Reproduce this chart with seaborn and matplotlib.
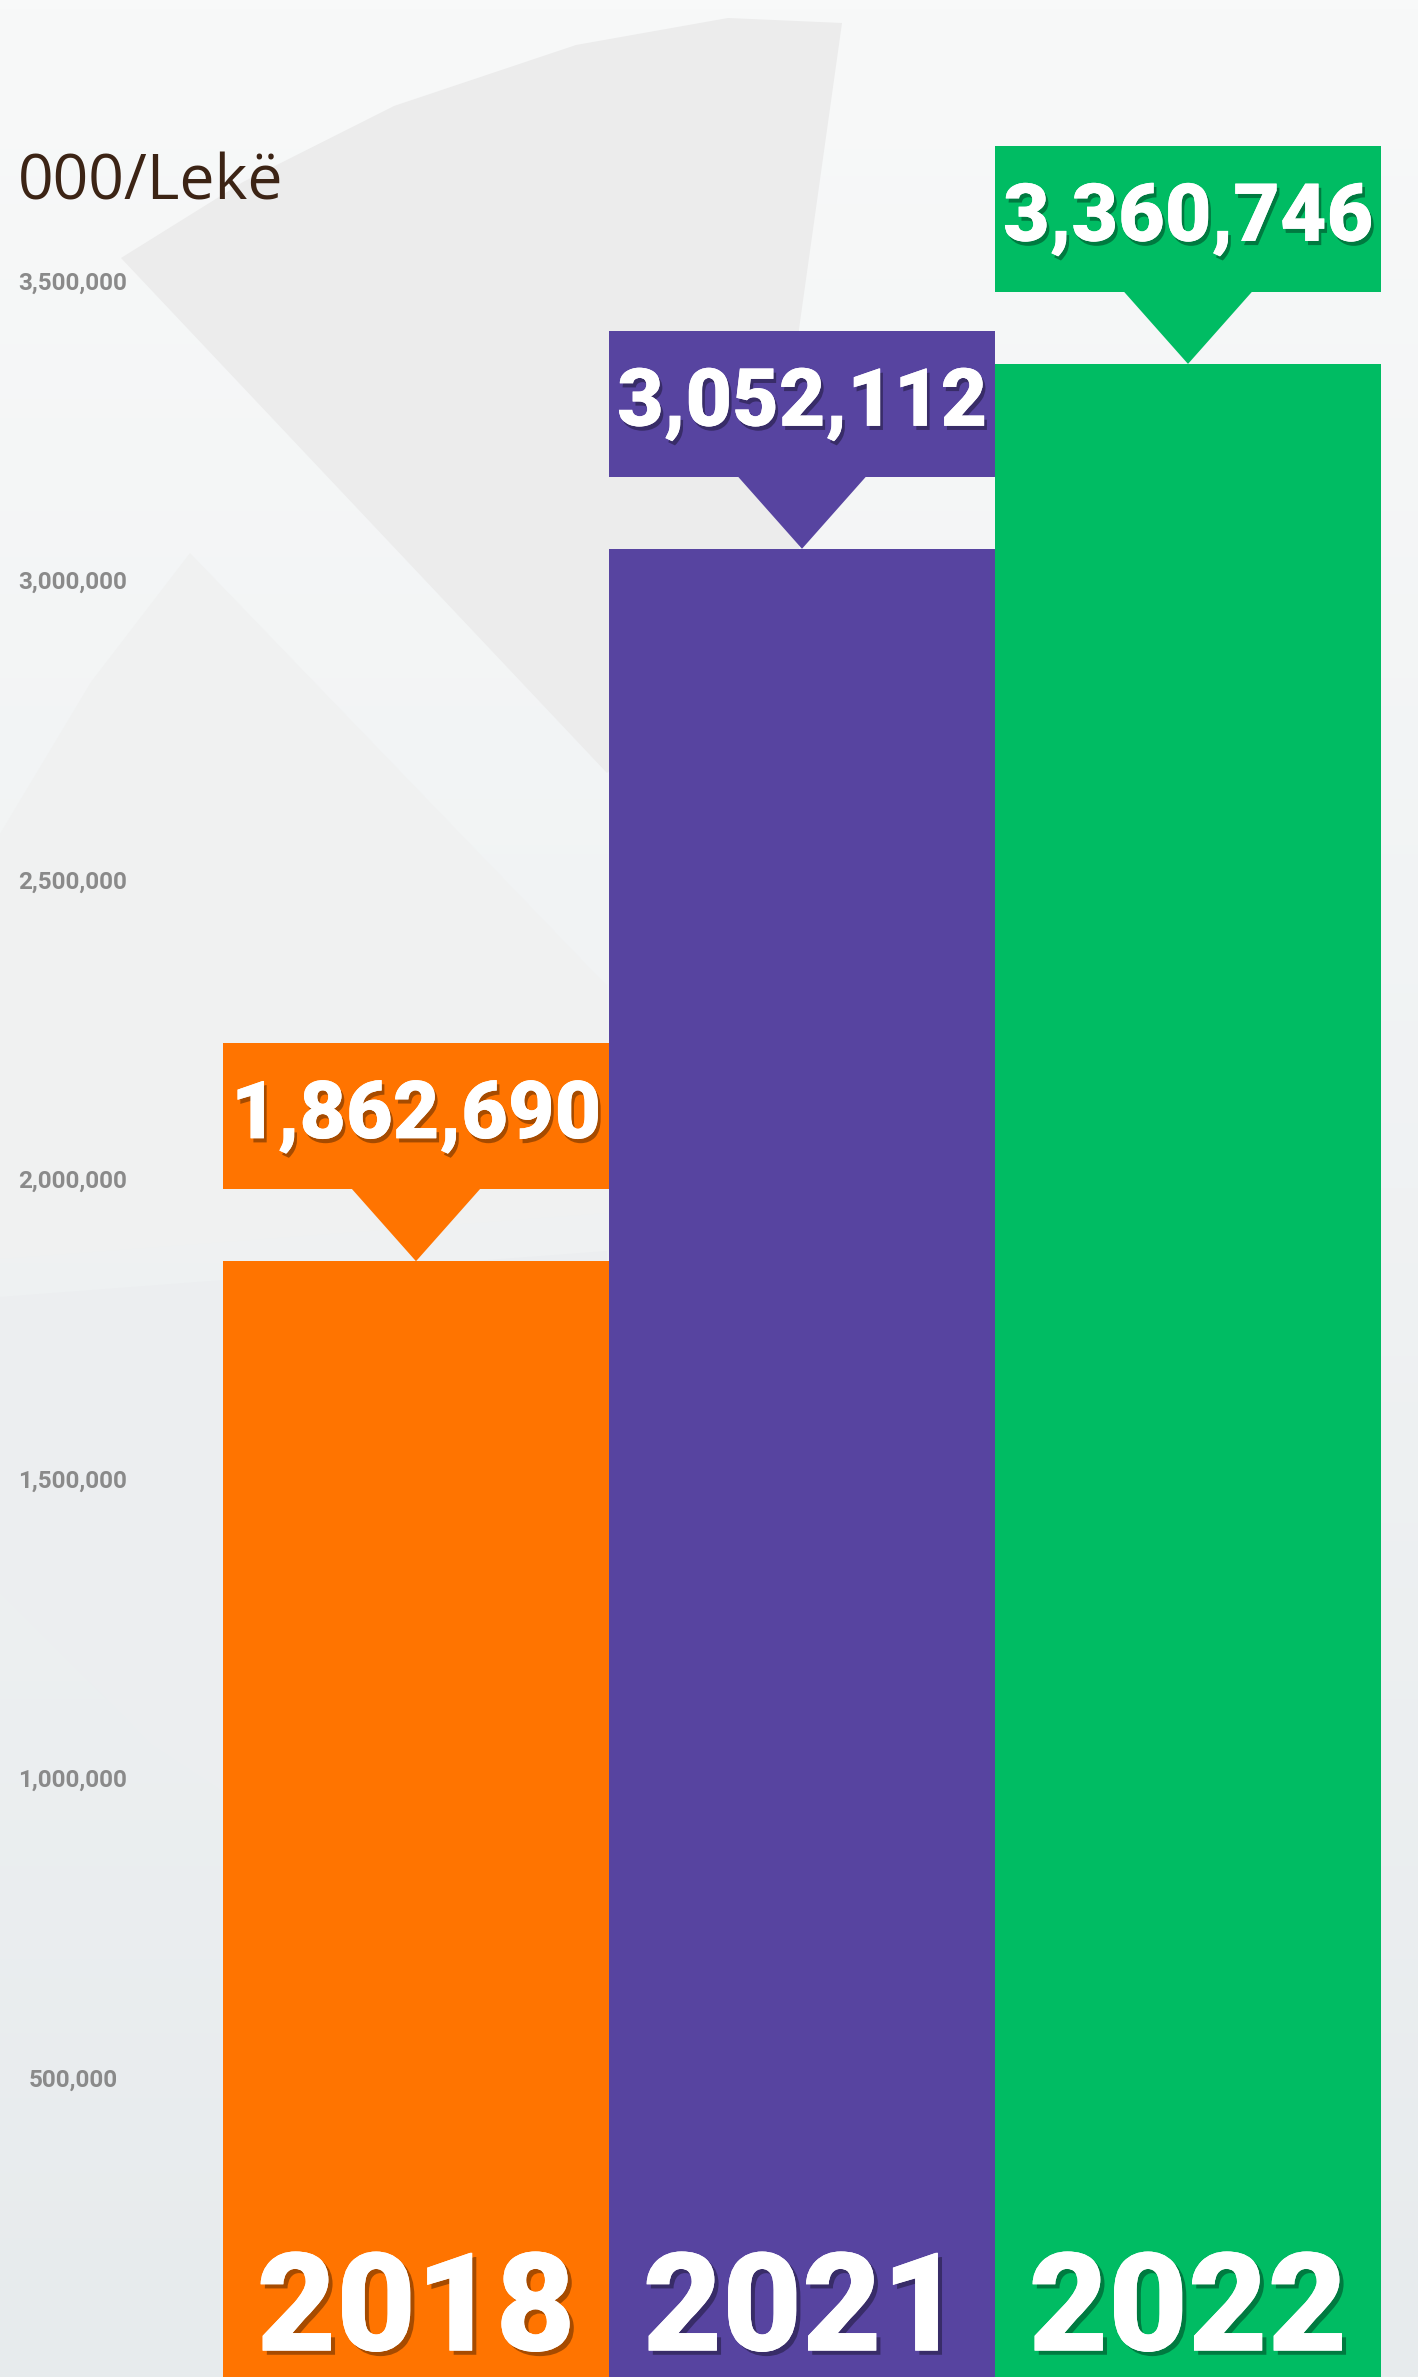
import numpy as np
import matplotlib
matplotlib.use("Agg")
import matplotlib.pyplot as plt
import matplotlib.patheffects as pe
import seaborn as sns

# ================= DATA =================
years = ["2018", "2021", "2022"]
values = [1862690, 3052112, 3360746]
bar_colors = ["#ff7400", "#5744a0", "#00bc63"]
tick_values = [500000, 1000000, 1500000, 2000000, 2500000, 3000000, 3500000]
tick_labels = ["500,000", "1,000,000", "1,500,000", "2,000,000",
               "2,500,000", "3,000,000", "3,500,000"]
unit_label = "000/Lekë"

# ================= FIGURE =================
W, H, DPI = 1418, 2377, 100
sns.set_style("white")
fig = plt.figure(figsize=(W / DPI, H / DPI), dpi=DPI)

# background: soft gradient + faint watermark shapes
bg = fig.add_axes([0, 0, 1, 1], zorder=-5)
top_c = np.array([0xf8, 0xf9, 0xf9]) / 255
bot_c = np.array([0xe7, 0xeb, 0xed]) / 255
t = np.linspace(0, 1, 256)[:, None, None]
grad = top_c * (1 - t) + bot_c * t
bg.imshow(grad, aspect="auto", extent=[0, W, H, 0])
shapes = [
    ([121, 243, 394, 576, 728, 842, 799, 799, 607],
     [258, 182, 106, 45, 18, 23, 329, 607, 773], "#ececec"),
    ([0, 91, 190, 607, 607, 0],
     [834, 682, 553, 986, 1213, 1259], "#f0f1f1"),
    ([0, 607, 607, 380, 152, 0],
     [1297, 1251, 1970, 1895, 1745, 1592], "#eceef0"),
]
for xs, ys, c in shapes:
    bg.fill(xs, ys, color=c, lw=0)
bg.set_xlim(0, W)
bg.set_ylim(H, 0)
bg.axis("off")

# main axes
ax = fig.add_axes([223 / W, 0, 1158 / W, 1])
ax.set_facecolor("none")

sns.barplot(x=years, y=values, hue=years, palette=bar_colors, width=1,
            saturation=1, legend=False, linewidth=0, ax=ax)

ymax = H / 599 * 1e6
ax.set_xlim(-0.5, 2.5)
ax.set_ylim(0, ymax)

# callouts above bars
px = ymax / H
gap = 72 * px
box_h = 146 * px
for i, (v, c) in enumerate(zip(values, bar_colors)):
    ax.bar(i, box_h, bottom=v + gap, width=1, color=c, lw=0)
    ax.fill([i - 0.17, i + 0.17, i], [v + gap + 2 * px, v + gap + 2 * px, v],
            color=c, lw=0)
    ax.text(i, v + gap + box_h / 2, f"{v:,}", ha="center", va="center",
            color="white", fontsize=58, family="Roboto", fontweight="black",
            path_effects=[pe.withSimplePatchShadow(offset=(2, -3), shadow_rgbFace="black", alpha=0.35),
                          pe.Normal()])
    ax.annotate(years[i], xy=(i, 0), xytext=(0, 19), textcoords="offset points",
                ha="center", va="baseline", color="white", fontsize=99,
                family="Roboto", fontweight="black",
                path_effects=[pe.withSimplePatchShadow(offset=(3, -3), shadow_rgbFace="black", alpha=0.35),
                              pe.Normal()])

# y ticks
ax.set_yticks(tick_values)
ax.set_yticklabels(tick_labels, fontsize=17.5, family="Roboto",
                   fontweight="bold", color="#8a8a8a")
plt.setp(ax.get_yticklabels(), ha="center")
ax.tick_params(axis="y", length=0, pad=108)
ax.set_xticks([])
ax.set_xlabel("")
ax.set_ylabel("")
sns.despine(ax=ax, left=True, bottom=True)

fig.text(18 / W, 1 - 200 / H, unit_label, fontsize=45, family="Open Sans",
         color="#3c2415", ha="left", va="baseline")

fig.savefig("out.png", dpi=DPI)
